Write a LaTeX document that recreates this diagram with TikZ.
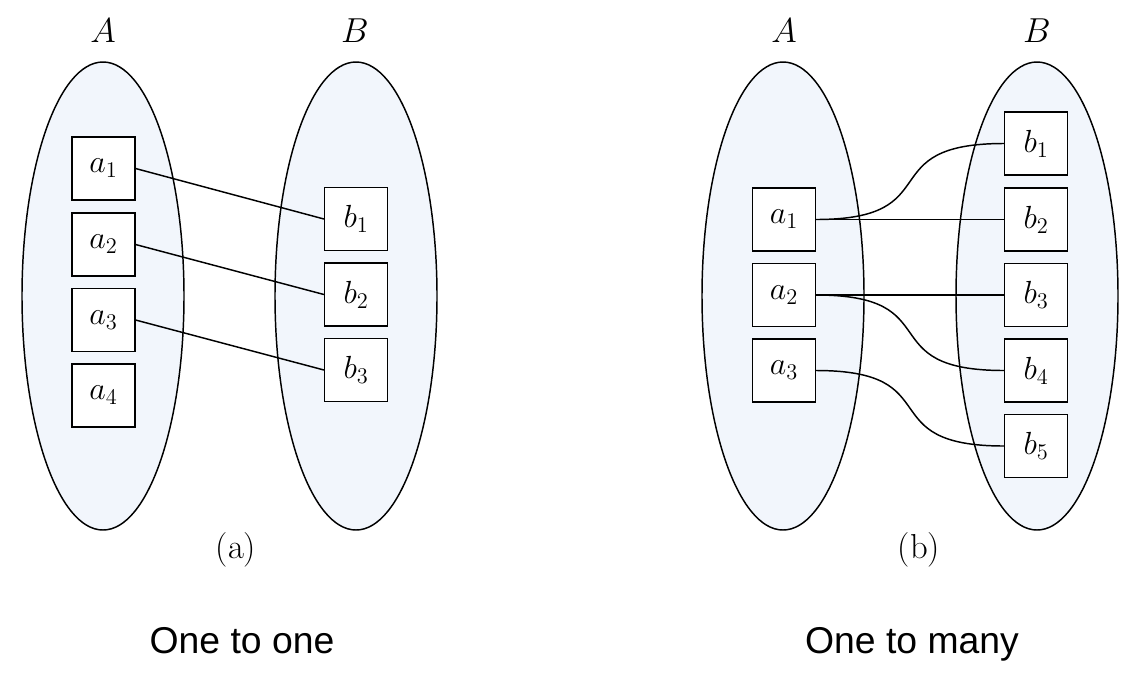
\documentclass[tikz,border=0pt]{standalone}
\usepackage{fix-cm}
\usepackage{fontspec}
\newfontfamily\captionfont{Liberation Sans}
\usetikzlibrary{shapes.geometric}
\definecolor{setfill}{RGB}{242,246,252}
\tikzset{
  set/.style={ellipse,draw,fill=setfill,line width=1.1pt,inner sep=0pt,minimum width=121.5pt,minimum height=351pt},
  elem/.style={rectangle,draw,fill=white,line width=1.1pt,inner sep=0pt,minimum size=47pt,font=\fontsize{24}{28}\selectfont},
  setname/.style={anchor=base,font=\fontsize{26}{30}\selectfont},
  sublabel/.style={font=\fontsize{26}{30}\selectfont},
  caption/.style={anchor=base,font=\captionfont\fontsize{28}{32}\selectfont},
  link/.style={line width=1.1pt}
}
\begin{document}
\begin{tikzpicture}[x=0.75pt,y=-0.75pt]
  \useasboundingbox (0,0) rectangle (1138,672);
  % (a) one to one
  \node[set] (lA) at (103,296) {};
  \node[set] (lB) at (356,296) {};
  \node[setname] (lAname) at (103,42) {$A$};
  \node[setname] (lBname) at (355,42) {$B$};
  \foreach \y [count=\j from 1] in {168.5,244.5,320,395.5} \node[elem] (la\j) at (103.5,\y) {$a_\j$};
  \foreach \y [count=\j from 1] in {219,294.5,370} \node[elem] (lb\j) at (356,\y) {$b_\j$};
  \foreach \j in {1,2,3} \draw[link] (la\j.east) -- (lb\j.west);
  \node[sublabel] (lsub) at (236,550) {(a)};
  \node[caption] (lcap) at (242,653) {One to one};
  % (b) one to many
  \node[set] (rA) at (783,296) {};
  \node[set] (rB) at (1037,296) {};
  \node[setname] (rAname) at (784,42) {$A$};
  \node[setname] (rBname) at (1037,42) {$B$};
  \foreach \y [count=\j from 1] in {219.5,295,370.5} \node[elem] (ra\j) at (784,\y) {$a_\j$};
  \foreach \y [count=\j from 1] in {143.5,219.5,295,370.5,446} \node[elem] (rb\j) at (1036,\y) {$b_\j$};
  \draw[link] (ra1.east) to[out=0,in=180,looseness=1.7] (rb1.west);
  \draw[link] (ra1.east) -- (rb2.west);
  \draw[link] (ra2.east) -- (rb3.west);
  \draw[link] (ra2.east) to[out=0,in=180,looseness=1.7] (rb4.west);
  \draw[link] (ra3.east) to[out=0,in=180,looseness=1.7] (rb5.west);
  \node[sublabel] (rsub) at (919,550) {(b)};
  \node[caption] (rcap) at (912,653) {One to many};
\end{tikzpicture}
\end{document}
